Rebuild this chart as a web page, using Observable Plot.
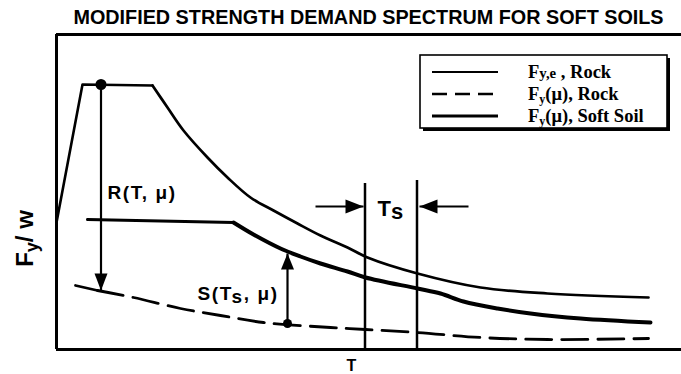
<!DOCTYPE html>
<html><head><meta charset="utf-8">
<script src="https://cdn.jsdelivr.net/npm/d3@7"></script>
<script src="https://cdn.jsdelivr.net/npm/@observablehq/plot@0.6"></script>
<style>
body{margin:0;background:#fff;}
#title{width:681px;height:28px;box-sizing:border-box;padding-left:56px;padding-top:6px;line-height:22px;text-align:center;font:bold 19.8px "Liberation Sans",Arial,sans-serif;color:#000;white-space:nowrap;}
#chart svg{display:block;overflow:visible}
.lbl text{letter-spacing:1.6px}
</style></head><body>
<div id="title">MODIFIED STRENGTH DEMAND SPECTRUM FOR SOFT SOILS</div>
<div id="chart"></div>
<script>
// ---- data (T in arbitrary period units, F = Fy/w in arbitrary units) ----
const rockT = [0, 0.26, 0.96, 1.11, 1.27, 1.51, 1.71, 1.94, 2.17, 2.41, 2.64, 2.91, 3.11, 3.61, 4.24, 4.91, 5.92];
const rockF = [1.27, 2.65, 2.64, 2.42, 2.19, 1.92, 1.72, 1.52, 1.39, 1.26, 1.14, 1.02, 0.92, 0.76, 0.62, 0.56, 0.52];
const rockBreak = 2;
const softT = [0.31, 1.77, 1.97, 2.24, 2.44, 2.64, 2.91, 3.09, 3.61, 3.84, 4.07, 4.41, 4.74, 5.24, 5.94];
const softF = [1.30, 1.27, 1.15, 1.01, 0.93, 0.86, 0.78, 0.72, 0.61, 0.56, 0.48, 0.41, 0.36, 0.31, 0.27];
const softBreak = 1;
const muT = [0.19, 0.41, 0.77, 1.24, 1.64, 2.07, 2.74, 3.09, 3.61, 4.24, 4.91, 5.92];
const muF = [0.64, 0.59, 0.52, 0.41, 0.34, 0.27, 0.22, 0.20, 0.17, 0.12, 0.10, 0.11];
const muBreak = 1;
const tsLines = [{t: 3.085, top: 1.66}, {t: 3.605, top: 1.69}];
const tsArrows = [{from: 2.59, to: 3.07, f: 1.43}, {from: 4.12, to: 3.63, f: 1.43}];
const rArrow = [{t: 0.445, from: 2.65, to: 0.59}];
const sArrow = [{t: 2.31, from: 0.26, to: 0.96}];
const labels = [
  {text: "R(T, μ)", t: 0.51, f: 1.57, size: 19},
  {text: "S(Ts, μ)", t: 1.41, f: 0.56, size: 19},
  {text: "Ts", t: 3.21, f: 1.41, size: 22}
];
const yLabel = [{text: "Fy/w", f: 1.11}];
const xLabel = [{text: "T", t: 2.95}];
const legendItems = ["Fy,e , Rock", "Fy(μ), Rock", "Fy(μ), Soft Soil"];
const T_MAX = 6.25, F_MAX = 3.15;

// ---- helpers ----
const pts = (T, F) => T.map((t, i) => ({t, f: F[i]}));
const rock = pts(rockT, rockF), soft = pts(softT, softF), mu = pts(muT, muF);
const headRight = {draw(c){c.moveTo(0,0);c.lineTo(-18,-7);c.lineTo(-18,7);c.closePath();}};
const headLeft  = {draw(c){c.moveTo(0,0);c.lineTo(18,-7);c.lineTo(18,7);c.closePath();}};
const headDown  = {draw(c){c.moveTo(0,0);c.lineTo(-6.5,-17);c.lineTo(6.5,-17);c.closePath();}};
const headUp    = {draw(c){c.moveTo(0,0);c.lineTo(-6.5,16);c.lineTo(6.5,16);c.closePath();}};
const sans = "'Liberation Sans', Arial, sans-serif";

const chart = Plot.plot({
  width: 681, height: 346,
  marginLeft: 56, marginRight: 0, marginTop: 6, marginBottom: 25,
  x: {domain: [0, T_MAX], axis: null},
  y: {domain: [0, F_MAX], axis: null},
  style: {background: "white", color: "black", overflow: "visible"},
  marks: [
    Plot.ruleY([0], {stroke: "black", strokeWidth: 3}),
    Plot.ruleY([F_MAX], {stroke: "black", strokeWidth: 3}),
    Plot.ruleX([0], {stroke: "black", strokeWidth: 3}),
    // rock elastic
    Plot.line(rock.slice(0, rockBreak + 1), {x: "t", y: "f", stroke: "black", strokeWidth: 2.6}),
    Plot.line(rock.slice(rockBreak), {x: "t", y: "f", curve: "catmull-rom", stroke: "black", strokeWidth: 2.7}),
    // soft soil
    Plot.line(soft.slice(0, softBreak + 1), {x: "t", y: "f", stroke: "black", strokeWidth: 3}),
    Plot.line(soft.slice(softBreak), {x: "t", y: "f", curve: "catmull-rom", stroke: "black", strokeWidth: 4}),
    // rock inelastic (dashed)
    Plot.line(mu.slice(0, muBreak + 1), {x: "t", y: "f", stroke: "black", strokeWidth: 2.8}),
    Plot.line(mu.slice(muBreak), {x: "t", y: "f", curve: "catmull-rom", stroke: "black", strokeWidth: 2.8, strokeDasharray: "26,10"}),
    // Ts window
    Plot.ruleX(tsLines, {x: "t", y1: 0, y2: "top", stroke: "black", strokeWidth: 2.5}),
    Plot.link(tsArrows, {x1: "from", x2: "to", y1: "f", y2: "f", stroke: "black", strokeWidth: 2.2}),
    Plot.dot(tsArrows.filter(d => d.to > d.from), {x: "to", y: "f", symbol: headRight, fill: "black", stroke: null}),
    Plot.dot(tsArrows.filter(d => d.to < d.from), {x: "to", y: "f", symbol: headLeft, fill: "black", stroke: null}),
    // R arrow
    Plot.link(rArrow, {x1: "t", x2: "t", y1: "from", y2: "to", stroke: "black", strokeWidth: 2.2}),
    Plot.dot(rArrow, {x: "t", y: "to", symbol: headDown, fill: "black", stroke: null}),
    Plot.dot(rArrow, {x: "t", y: "from", r: 5.5, fill: "black", stroke: null}),
    // S arrow
    Plot.link(sArrow, {x1: "t", x2: "t", y1: "from", y2: "to", stroke: "black", strokeWidth: 2.2}),
    Plot.dot(sArrow, {x: "t", y: "to", symbol: headUp, fill: "black", stroke: null}),
    Plot.dot(sArrow, {x: "t", y: "from", r: 4.5, fill: "black", stroke: null}),
    // labels
    Plot.text(labels, {x: "t", y: "f", text: "text", fontSize: "size", textAnchor: "start", fontWeight: "bold", fontFamily: sans, fill: "black", className: "lbl"}),
    Plot.text(yLabel, {y: "f", text: "text", frameAnchor: "left", textAnchor: "middle", lineAnchor: "middle", dx: -31, rotate: -90, fontSize: 24, fontWeight: "bold", fontFamily: sans, fill: "black", className: "ylab"}),
    Plot.text(xLabel, {x: "t", text: "text", frameAnchor: "bottom", textAnchor: "middle", lineAnchor: "middle", dy: 16.5, fontSize: 16, fontWeight: "bold", fontFamily: sans, fill: "black"})
  ]
});
document.getElementById("chart").appendChild(chart);

// subscripts in text
const svg = d3.select(chart);
svg.selectAll(".ylab text").each(function() {
  const t = d3.select(this); t.text("");
  t.append("tspan").text("F");
  t.append("tspan").attr("dy", 5).attr("font-size", "0.75em").text("y");
  t.append("tspan").attr("dy", -5).text("/ w");
});
svg.selectAll(".lbl text").each(function() {
  const t = d3.select(this); const s = t.text();
  const i = s.indexOf("Ts");
  if (i < 0) return;
  t.text("");
  t.append("tspan").text(s.slice(0, i + 1));
  t.append("tspan").attr("dy", 3).text("s");
  t.append("tspan").attr("dy", -3).text(s.slice(i + 2));
});

// legend (page y minus 28 for title)
const lg = svg.append("g").attr("transform", "translate(0,-28)").attr("text-anchor", "start");
lg.append("rect").attr("x", 423).attr("y", 58).attr("width", 247).attr("height", 73).attr("fill", "black");
lg.append("rect").attr("x", 420).attr("y", 55).attr("width", 247).attr("height", 73).attr("fill", "white").attr("stroke", "black").attr("stroke-width", 1.6);
const rowY = [72, 94, 116];
const rowStyle = [{w: 2.2, dash: null}, {w: 2.4, dash: "15,8"}, {w: 3, dash: null}];
legendItems.forEach((label, i) => {
  lg.append("line").attr("x1", 432).attr("x2", 498).attr("y1", rowY[i]).attr("y2", rowY[i])
    .attr("stroke", "black").attr("stroke-width", rowStyle[i].w).attr("stroke-dasharray", rowStyle[i].dash);
  const tx = lg.append("text").attr("x", 528).attr("y", rowY[i]).attr("dy", "0.35em").attr("text-anchor", "start")
    .attr("font-family", "'Liberation Serif', 'Times New Roman', serif").attr("font-weight", "bold").attr("font-size", 18.5).attr("fill", "black");
  if (i === 0) {
    tx.append("tspan").text("F");
    tx.append("tspan").attr("font-size", "0.8em").text("y,e");
    tx.append("tspan").text(label.slice(4));
  } else {
    const rest = label.slice(2);
    tx.append("tspan").text("F");
    tx.append("tspan").attr("font-size", "0.65em").attr("dy", 3).text("y");
    tx.append("tspan").attr("dy", -3).text(rest);
  }
});
</script>
</body></html>
